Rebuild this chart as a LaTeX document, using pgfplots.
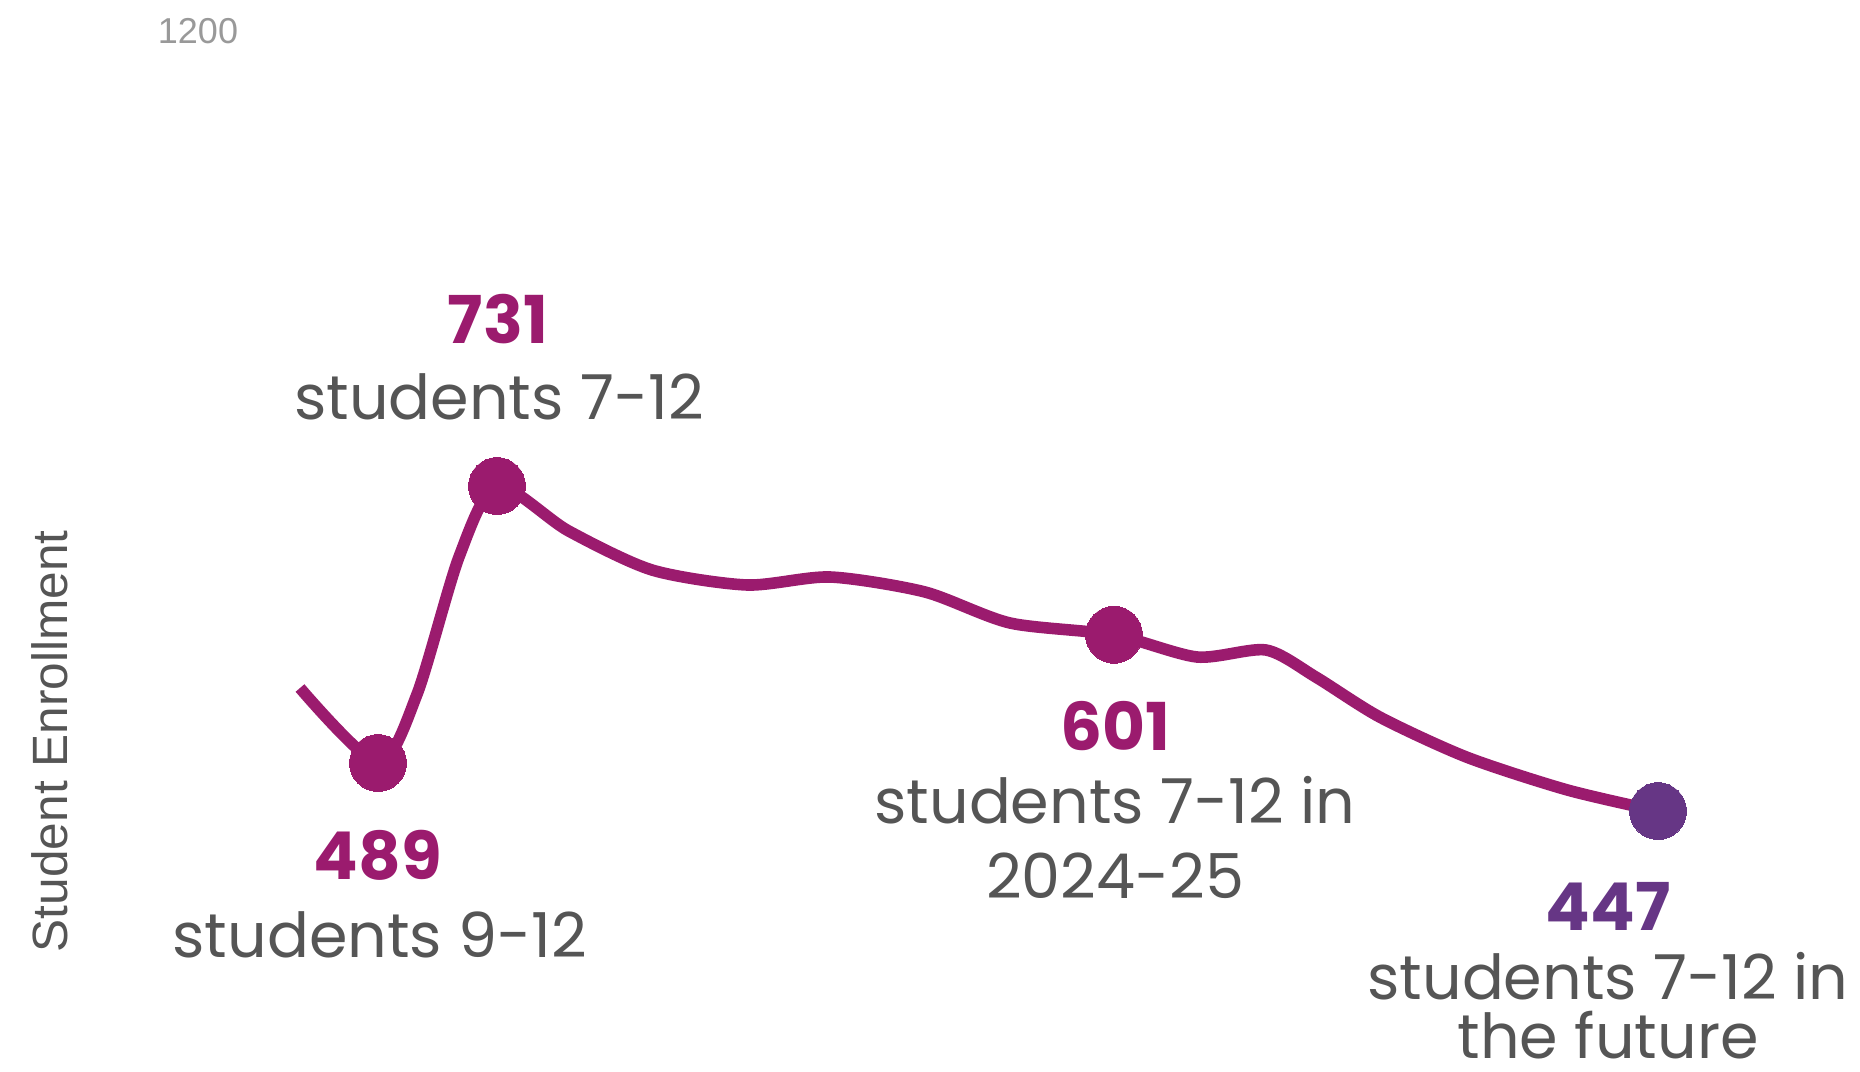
\documentclass[border=0pt]{standalone}
\usepackage{pgfplots}
\pgfplotsset{compat=1.18}
\usepackage{fontspec}
\setmainfont{Poppins}
\newfontfamily\arialf{Liberation Sans}
\definecolor{magline}{HTML}{9B1B6E}
\definecolor{purp}{HTML}{663685}
\definecolor{txtgray}{HTML}{555555}
\definecolor{tickgray}{HTML}{999999}
\pgfplotstableread{
x v
300 554.5
378 489
417 549
459 669
497 731
568 692
652 657.6
747 644.5
830 651.5
925 638.4
1010 611.3
1114 601
1197 581.6
1266 587.7
1316 564
1380 529
1467 494
1567 465.5
1658 447
}\curvedata
\pgfplotstableread{
x v
378 489
497 731
1114 601
}\keypoints
\newcommand{\numfont}{\fontsize{16.5}{19}\selectfont\bfseries}
\newcommand{\lblfont}{\fontsize{15.5}{19}\selectfont}
\begin{document}
\begin{tikzpicture}
\begin{axis}[name=ax, at={(0,0)}, anchor=south west, scale only axis,
  width=465pt, height=267.75pt,
  xmin=0, xmax=1860, ymin=219.9, ymax=1155.6,
  axis lines=none, clip=false,
  every node/.append style={inner sep=0pt}]
\addplot[magline, line width=2.9pt, smooth, tension=0.45] table[x=x,y=v] {\curvedata};
\addplot[color=magline, only marks, mark=*, mark size=7.1pt, mark options={line width=0pt}] table[x=x,y=v] {\keypoints};
\addplot[color=purp, only marks, mark=*, mark size=7.1pt, mark options={line width=0pt}] coordinates {(1658,447)};
% labels
\node[anchor=base, font=\numfont, text=magline] at (axis cs:498,855.9) {731};
\node[anchor=base, font=\lblfont, text=txtgray] at (axis cs:499,789.5) {students 7-12};
\node[anchor=base, font=\numfont, text=magline] at (axis cs:378,387.6) {489};
\node[anchor=base, font=\lblfont, text=txtgray] at (axis cs:380,319.5) {students 9-12};
\node[anchor=base, font=\numfont, text=magline] at (axis cs:1115,500.2) {601};
\node[anchor=base, font=\lblfont, text=txtgray] at (axis cs:1115,436.4) {students 7-12 in};
\node[anchor=base, font=\lblfont, text=txtgray] at (axis cs:1115,370.9) {2024-25};
\node[anchor=base, font=\numfont, text=purp] at (axis cs:1608,342.5) {447};
\node[anchor=base, font=\lblfont, text=txtgray] at (axis cs:1608,282) {students 7-12 in};
\node[anchor=base, font=\lblfont, text=txtgray] at (axis cs:1608,231) {the future};
% tick label and axis title
\node[anchor=base, font=\arialf\fontsize{9}{11}\selectfont, text=tickgray] at (axis cs:198,1118) {1200};
\node[anchor=center, rotate=90, font=\arialf\fontsize{12.4}{14}\selectfont, text=txtgray] at (axis cs:50,508) {Student Enrollment};
\end{axis}
\pgfresetboundingbox
\path (ax.south west) rectangle (ax.north east);
\end{tikzpicture}
\end{document}
